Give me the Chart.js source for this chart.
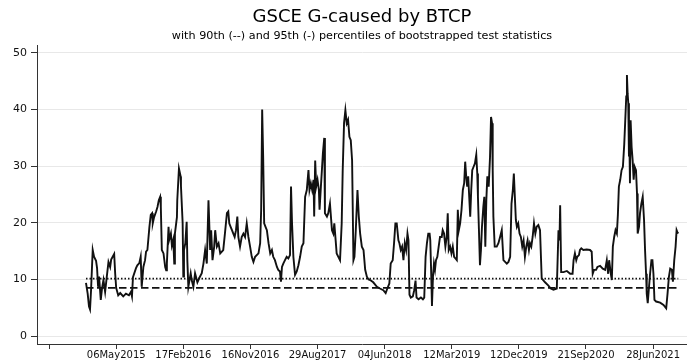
<!DOCTYPE html>
<html lang="en">
<head>
    <meta charset="UTF-8">
    <title>GSCE G-caused by BTCP</title>
    <script src="https://cdn.jsdelivr.net/npm/chart.js"></script>
    <style>
        body { margin: 0; background: #fff; }
    </style>
</head>
<body>
    <canvas id="gcChart" width="687" height="360"></canvas>

    <script>
        // observation number (business days) and bootstrapped test statistic
        const obsIdx = [110,115,119,122,125,130,134,140,143,146,149,154,158,162,167,172,177,182,185,194,197,200,206,212,221,229,238,244,247,250,259,263,269,273,276,281,286,289,293,299,303,307,309,313,319,323,327,331,333,336,341,346,349,351,356,358,363,366,370,373,375,381,382,387,392,393,398,400,402,406,410,412,415,422,425,430,435,442,448,455,460,465,470,475,480,483,487,492,495,500,505,510,519,524,530,534,537,541,545,549,553,557,561,564,569,574,579,584,589,594,599,604,609,614,624,629,632,635,638,641,645,649,654,659,664,668,673,679,683,688,691,694,698,703,708,713,718,721,724,728,733,738,743,748,753,758,763,768,773,776,780,784,788,790,793,796,800,804,806,810,813,816,820,822,828,832,837,843,847,850,854,857,862,867,872,875,879,883,887,891,895,899,903,907,910,914,919,923,927,932,937,942,947,952,957,966,977,986,996,1003,1008,1014,1018,1024,1028,1032,1036,1041,1044,1048,1052,1056,1060,1064,1068,1071,1074,1078,1084,1088,1092,1095,1101,1108,1114,1118,1122,1126,1130,1134,1136,1139,1141,1144,1147,1150,1153,1157,1161,1165,1170,1173,1177,1181,1185,1188,1191,1195,1199,1203,1207,1211,1215,1218,1221,1225,1229,1233,1237,1240,1243,1246,1249,1252,1255,1258,1261,1265,1269,1273,1276,1278,1281,1284,1287,1290,1294,1297,1300,1303,1306,1310,1314,1317,1320,1322,1324,1328,1334,1339,1344,1349,1354,1359,1364,1369,1374,1378,1382,1385,1388,1391,1394,1398,1402,1406,1410,1414,1418,1422,1426,1430,1433,1437,1441,1445,1449,1453,1458,1463,1468,1478,1488,1495,1503,1513,1518,1521,1523,1526,1533,1543,1553,1560,1563,1567,1571,1574,1579,1582,1586,1592,1602,1612,1617,1620,1624,1630,1634,1642,1650,1657,1662,1666,1669,1674,1677,1680,1684,1688,1692,1695,1698,1702,1706,1710,1714,1717,1720,1722,1724,1726,1728,1729,1731,1733,1736,1739,1742,1745,1749,1752,1754,1758,1761,1765,1769,1773,1776,1779,1781,1784,1787,1791,1795,1798,1801,1804,1809,1821,1831,1839,1843,1847,1851,1856,1859,1863,1867,1870,1872,1875];
        const testStat = [9.4,7.5,5.2,4.7,8.0,15.2,14.0,13.3,12.0,8.7,10.5,6.4,8.5,9.9,7.8,10.5,13.1,12.2,13.5,14.5,11.0,8.5,7.2,7.6,7.0,7.5,7.2,7.8,7.0,10.4,12.0,12.5,12.9,14.0,8.7,12.2,13.4,14.9,15.2,19.3,21.4,21.7,19.9,21.0,22.0,22.8,24.0,24.6,22.8,15.2,14.6,12.2,11.6,12.8,19.3,17.0,18.1,16.0,17.0,12.8,18.1,21.0,24.0,29.6,28.2,26.5,20.0,10.5,15.2,16.4,20.2,13.4,8.7,11.1,9.9,8.7,11.1,9.5,10.3,11.1,12.8,15.2,12.8,24.0,15.2,18.7,13.4,15.8,18.7,15.8,16.4,14.6,15.2,18.1,21.7,22.0,19.9,19.3,18.7,18.1,17.5,18.7,21.1,17.5,15.8,17.5,18.1,17.5,19.9,17.5,15.8,14.0,13.1,14.0,14.6,16.4,22.3,40.0,31.6,19.9,19.3,18.7,16.4,14.6,15.2,14.0,13.4,12.2,11.7,11.4,9.6,12.2,12.8,13.4,14.0,13.7,14.3,26.4,19.9,14.0,10.8,11.4,12.5,14.0,15.8,16.4,24.6,25.8,29.3,25.8,27.0,25.8,27.6,21.1,31.0,26.4,27.6,25.8,22.3,26.4,29.3,32.3,35.0,21.7,21.1,21.7,23.4,18.7,18.1,19.9,16.9,14.6,14.0,13.4,19.9,29.3,37.6,39.9,37.6,38.2,35.2,34.6,31.0,13.4,14.0,18.7,25.8,21.1,18.1,15.8,15.2,11.7,10.5,10.0,9.9,9.5,8.7,8.4,8.1,7.6,8.4,9.3,12.8,13.4,16.4,19.9,19.9,16.9,16.4,15.2,15.8,13.4,16.4,15.2,18.1,16.9,7.3,6.8,7.0,8.1,9.8,6.8,6.5,6.8,6.5,6.8,14.0,16.4,18.1,18.1,16.9,10.5,5.3,10.5,12.8,11.7,13.4,14.0,15.8,17.5,17.5,18.7,18.1,15.8,17.5,21.7,15.2,15.8,14.6,15.8,14.0,13.7,13.4,22.3,18.7,19.9,22.3,25.8,27.0,30.8,28.2,26.4,28.2,24.6,21.1,25.8,29.3,29.9,30.5,32.0,28.7,24.6,18.7,12.5,15.2,19.3,22.8,24.6,15.8,24.0,28.2,26.4,31.6,38.7,37.6,29.3,21.1,15.8,15.8,16.4,17.5,18.7,13.4,13.1,12.8,13.1,14.0,23.4,25.8,28.7,24.6,20.5,19.3,19.9,18.1,17.5,15.8,16.9,14.0,15.8,16.9,15.2,16.4,15.8,17.5,19.9,18.1,19.3,19.6,18.7,10.2,9.5,8.9,8.4,8.2,8.4,18.7,16.9,23.1,11.3,11.3,11.5,11.0,11.0,13.4,14.6,13.4,14.0,14.3,15.2,15.5,15.2,15.3,15.2,14.9,11.0,11.7,11.7,12.2,12.4,11.9,11.7,13.4,11.0,13.4,11.0,9.9,15.8,17.5,18.7,18.1,21.4,26.4,27.6,29.3,29.9,33.9,38.1,42.3,46.1,42.9,41.1,31.7,35.8,27.0,38.1,33.4,31.1,27.6,29.9,29.3,25.2,18.1,19.3,21.7,23.4,24.6,20.5,15.2,11.0,7.5,5.8,8.1,11.0,13.4,13.4,11.0,6.4,6.1,5.9,5.5,4.9,7.5,10.4,11.9,11.7,9.6,13.4,15.8,18.7,18.4,18.1];

        // critical values from the bootstrap (90th dotted, 95th dashed)
        const pct90 = 10.15;
        const pct95 = 8.5;

        // axis ticks
        const tickObs = [0, 200, 400, 600, 800, 1000, 1200, 1400, 1600, 1800];
        const tickLabels = ['', '06May2015', '17Feb2016', '16Nov2016', '29Aug2017', '04Jun2018', '12Mar2019', '12Dec2019', '21Sep2020', '28Jun2021'];
        const yTicks = [0, 10, 20, 30, 40, 50];

        const firstObs = obsIdx[0];
        const lastObs = obsIdx[obsIdx.length - 1];
        const axisColor = '#333';

        const ctx = document.getElementById('gcChart').getContext('2d');
        new Chart(ctx, {
            type: 'line',
            data: {
                datasets: [
                    {
                        data: obsIdx.map((o, i) => ({ x: o, y: testStat[i] })),
                        borderColor: '#111',
                        borderWidth: 1.9,
                        pointRadius: 0,
                        tension: 0
                    },
                    {
                        data: [{ x: firstObs, y: pct90 }, { x: lastObs, y: pct90 }],
                        borderColor: '#111',
                        borderWidth: 1.8,
                        borderDash: [1.5, 2],
                        pointRadius: 0
                    },
                    {
                        data: [{ x: firstObs, y: pct95 }, { x: lastObs, y: pct95 }],
                        borderColor: '#111',
                        borderWidth: 1.8,
                        borderDash: [7.5, 3.5],
                        pointRadius: 0
                    }
                ]
            },
            options: {
                responsive: false,
                animation: false,
                layout: { padding: 0 },
                plugins: {
                    legend: { display: false },
                    tooltip: { enabled: false },
                    // centred over the plot region, not the whole canvas
                    title: {
                        display: true,
                        fullSize: false,
                        text: 'GSCE G-caused by BTCP',
                        color: '#000',
                        font: { family: 'DejaVu Sans', size: 18, weight: 'normal' },
                        padding: { top: 7, bottom: 1 }
                    },
                    subtitle: {
                        display: true,
                        fullSize: false,
                        text: 'with 90th (--) and 95th (-) percentiles of bootstrapped test statistics',
                        color: '#000',
                        font: { family: 'DejaVu Sans', size: 11.2 },
                        padding: { top: 0, bottom: 2 }
                    }
                },
                scales: {
                    x: {
                        type: 'linear',
                        min: -36,
                        max: 1901,
                        afterBuildTicks: (scale) => { scale.ticks = tickObs.map(v => ({ value: v })); },
                        afterFit: (scale) => { scale.height = 16; },
                        ticks: {
                            autoSkip: false,
                            maxRotation: 0,
                            padding: 0,
                            color: '#111',
                            font: { family: 'DejaVu Sans', size: 10 },
                            callback: (value, index) => tickLabels[index]
                        },
                        grid: {
                            drawOnChartArea: false,
                            tickLength: 5,
                            tickColor: axisColor
                        },
                        border: { color: axisColor, width: 1 }
                    },
                    y: {
                        min: -1.4,
                        max: 51.4,
                        afterBuildTicks: (scale) => { scale.ticks = yTicks.map(v => ({ value: v })); },
                        afterFit: (scale) => { scale.width = 37; },
                        ticks: {
                            padding: 4,
                            color: '#111',
                            font: { family: 'DejaVu Sans', size: 11 }
                        },
                        grid: {
                            color: '#e8e8e8',
                            tickLength: 6,
                            tickColor: axisColor
                        },
                        border: { color: axisColor, width: 1 }
                    }
                }
            }
        });
    </script>
</body>
</html>
